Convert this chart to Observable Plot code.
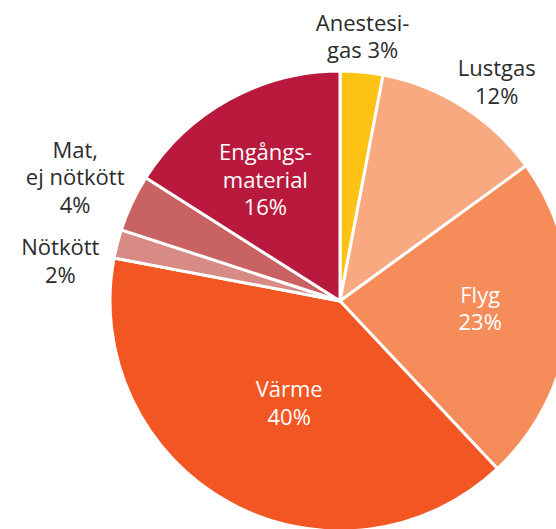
<!DOCTYPE html>
<html>
<head>
<meta charset="utf-8">
<script src="https://cdn.jsdelivr.net/npm/d3@7"></script>
<script src="https://cdn.jsdelivr.net/npm/@observablehq/plot@0.6"></script>
<style>
  html, body { margin: 0; padding: 0; background: white; }
  #chart { width: 556px; height: 529px; overflow: hidden; }
</style>
</head>
<body>
<div id="chart"></div>
<script>
// Data
const categories = ["Anestesigas", "Lustgas", "Flyg", "Värme", "Nötkött", "Mat, ej nötkött", "Engångsmaterial"];
const shares = [3, 12, 23, 40, 2, 4, 16];
const labels = ["Anestesi-\ngas 3%", "Lustgas\n12%", "Flyg\n23%", "Värme\n40%", "Nötkött\n2%", "Mat,\nej nötkött\n4%", "Engångs-\nmaterial\n16%"];
const colors = ["#FDC314", "#F8A97F", "#F58C5A", "#F25623", "#D88A84", "#C96363", "#B8193C"];
const inside = [false, false, true, true, false, false, true];

// Label layout (styling): radial factor and pixel nudges
const labelRadius = [1.16, 1.17, 0.61, 0.49, 1.28, 1.275, 0.624];
const labelDx = [-3, 12, 0, 3, 5, 0, -6];
const labelDy = [0, 7, -7, 2, 32, 0, 3];

const rows = categories.map((name, i) => ({name, value: shares[i], label: labels[i], inside: inside[i], lr: labelRadius[i], dx: labelDx[i], dy: labelDy[i]}));
const arcs = d3.pie().sort(null).value(d => d.value)(rows);
const labelRows = arcs.map(a => {
  const m = (a.startAngle + a.endAngle) / 2;
  return {...a.data, lx: a.data.lr * Math.sin(m), ly: a.data.lr * Math.cos(m)};
});

const W = 556, H = 529, CX = 340, CY = 301, R = 230;

const pieMark = (index, scales) => {
  const cx = scales.x(0), cy = scales.y(0), rad = scales.x(1) - cx;
  const arc = d3.arc().innerRadius(0).outerRadius(rad);
  const g = d3.create("svg:g").attr("transform", `translate(${cx},${cy})`);
  g.selectAll("path").data(arcs).join("path")
    .attr("d", arc)
    .attr("fill", d => scales.color(d.data.name))
    .attr("stroke", "white")
    .attr("stroke-width", 3)
    .attr("stroke-linejoin", "round");
  return g.node();
};

const chart = Plot.plot({
  width: W,
  height: H,
  margin: 0,
  style: {fontFamily: "'Open Sans', sans-serif", background: "white", overflow: "hidden"},
  x: {domain: [-CX / R, (W - CX) / R], range: [0, W], axis: null},
  y: {domain: [-(H - CY) / R, CY / R], range: [H, 0], axis: null},
  color: {type: "ordinal", domain: categories, range: colors},
  marks: [
    Plot.dot(rows, {x: () => 0, y: () => 0, fill: "name", r: 1, fillOpacity: 0}),
    pieMark,
    ...labelRows.map(d => Plot.text([d], {
      x: "lx", y: "ly", text: "label", dx: d.dx, dy: d.dy,
      fill: d.inside ? "white" : "#2b2b2b",
      fontSize: 22, lineHeight: 1.25, textAnchor: "middle"
    }))
  ]
});
document.getElementById("chart").append(chart);
</script>
</body>
</html>
